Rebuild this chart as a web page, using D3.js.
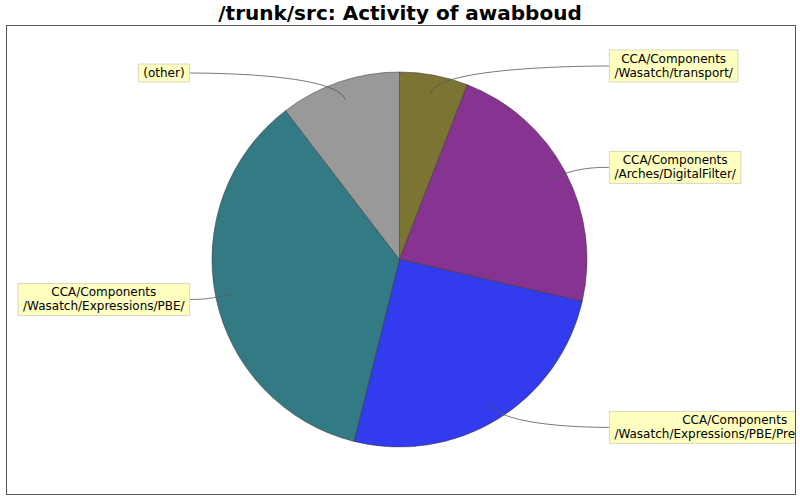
<!DOCTYPE html>
<html>
<head>
<meta charset="utf-8">
<script src="https://cdn.jsdelivr.net/npm/d3@7"></script>
<style>
  body { margin: 0; background: #fff; }
  text { font-family: "DejaVu Sans", sans-serif; }
</style>
</head>
<body>
<div id="chart"></div>
<script>
const title = "/trunk/src: Activity of awabboud";
const categories = [
  "CCA/Components\n/Wasatch/transport/",
  "CCA/Components\n/Arches/DigitalFilter/",
  "CCA/Components\n/Wasatch/Expressions/PBE/Precipitation/",
  "CCA/Components\n/Wasatch/Expressions/PBE/",
  "(other)"
];
const values = [5.9, 22.7, 25.3, 35.7, 10.4];
const colors = ["#7b7433", "#863391", "#333bee", "#337a85", "#999999"];

const width = 800, height = 500;
const plot = { x: 6.5, y: 25.5, w: 789, h: 469 };
const cx = 399.5, cy = 259.5, R = 187.5;

const svg = d3.select("#chart").append("svg")
  .attr("width", width)
  .attr("height", height);

svg.append("text")
  .attr("x", width / 2)
  .attr("y", 20)
  .attr("text-anchor", "middle")
  .style("font-size", "20px")
  .style("font-weight", "bold")
  .text(title);

svg.append("defs").append("clipPath")
  .attr("id", "plotclip")
  .append("rect")
  .attr("x", plot.x).attr("y", plot.y)
  .attr("width", plot.w).attr("height", plot.h);

const g = svg.append("g").attr("clip-path", "url(#plotclip)");

const pie = d3.pie().sort(null).value(d => d);
const arcs = pie(values);
const arc = d3.arc().innerRadius(0).outerRadius(R);

g.append("g")
  .attr("transform", `translate(${cx},${cy})`)
  .selectAll("path")
  .data(arcs)
  .enter()
  .append("path")
  .attr("d", arc)
  .attr("fill", (d, i) => colors[i])
  .attr("stroke", "#333")
  .attr("stroke-width", 0.5);

// label links (cubic curves like JFreeChart) and label boxes
const elbowR = R * 1.05, linkR = R * 0.9, gap = 13;
const lineH = 14;

arcs.forEach((d, i) => {
  const a = (d.startAngle + d.endAngle) / 2;
  const right = Math.sin(a) >= 0;
  const ex = cx + elbowR * Math.sin(a), ey = cy - elbowR * Math.cos(a);
  const lx = cx + linkR * Math.sin(a), ly = cy - linkR * Math.cos(a);
  const anchorX = right ? cx + elbowR : cx - elbowR;
  const targetX = right ? anchorX + gap : anchorX - gap;

  const path = d3.path();
  path.moveTo(targetX, ey);
  path.bezierCurveTo(anchorX, ey, ex, ey, lx, ly);
  g.append("path")
    .attr("d", path.toString())
    .attr("fill", "none")
    .attr("stroke", "#555")
    .attr("stroke-width", 0.8);

  const lines = categories[i].split("\n");
  const lg = g.append("g");
  const rect = lg.append("rect");
  const txt = lg.append("text")
    .attr("text-anchor", "middle")
    .style("font-size", "12px")
    .attr("fill", "#000");
  lines.forEach((l, k) => {
    txt.append("tspan").attr("dy", k === 0 ? 0 : lineH).text(l);
  });
  const tw = d3.max(txt.selectAll("tspan").nodes(), n => n.getComputedTextLength());
  const bw = tw + 10, bh = lines.length * lineH + 4;
  const bx = right ? targetX : targetX - bw;
  const by = ey - bh / 2;
  rect.attr("x", bx).attr("y", by).attr("width", bw).attr("height", bh)
    .attr("fill", "#ffffc0")
    .attr("stroke", "#d8d8c0")
    .attr("stroke-width", 1);
  txt.selectAll("tspan").attr("x", bx + bw / 2);
  txt.attr("y", by + 2 + 11);
});

svg.append("rect")
  .attr("x", plot.x).attr("y", plot.y)
  .attr("width", plot.w).attr("height", plot.h)
  .attr("fill", "none")
  .attr("stroke", "#555")
  .attr("stroke-width", 1);
</script>
</body>
</html>
